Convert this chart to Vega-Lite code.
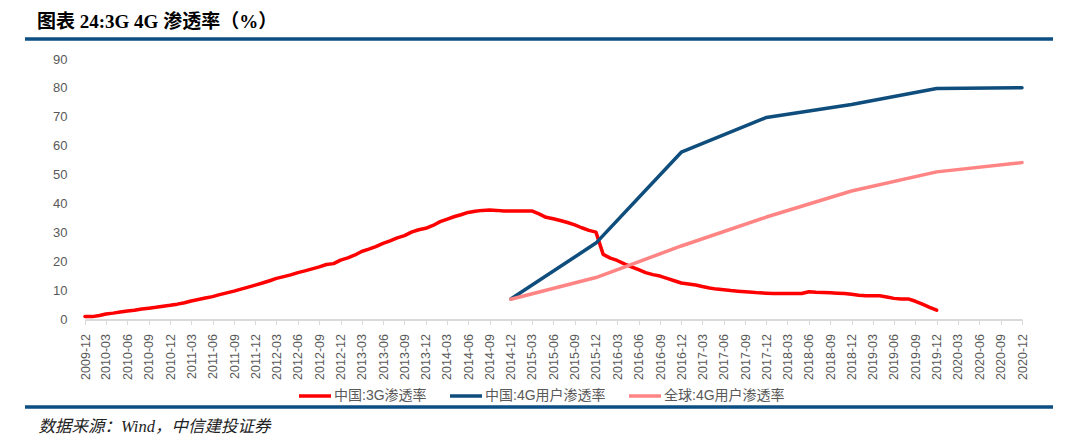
{
  "$schema": "https://vega.github.io/schema/vega-lite/v6.json",
  "autosize": {"type": "none"},
  "width": 1028,
  "height": 368,
  "padding": {"left": 25, "top": 39, "right": 27, "bottom": 39},
  "background": "white",
  "title": {
    "text": "图表 24:3G 4G 渗透率（%）",
    "anchor": "start",
    "dx": 12,
    "offset": 7,
    "font": "Liberation Serif, Noto Sans CJK SC",
    "fontSize": 19,
    "fontWeight": "bold",
    "color": "#000000"
  },
  "data": {
    "values": [
      {"month": "2009-12-01", "series": "中国:3G渗透率", "value": 1.0},
      {"month": "2010-01-01", "series": "中国:3G渗透率", "value": 1.0},
      {"month": "2010-02-01", "series": "中国:3G渗透率", "value": 1.4},
      {"month": "2010-03-01", "series": "中国:3G渗透率", "value": 1.9},
      {"month": "2010-04-01", "series": "中国:3G渗透率", "value": 2.2},
      {"month": "2010-05-01", "series": "中国:3G渗透率", "value": 2.6},
      {"month": "2010-06-01", "series": "中国:3G渗透率", "value": 2.9},
      {"month": "2010-07-01", "series": "中国:3G渗透率", "value": 3.2},
      {"month": "2010-08-01", "series": "中国:3G渗透率", "value": 3.6},
      {"month": "2010-09-01", "series": "中国:3G渗透率", "value": 3.9},
      {"month": "2010-10-01", "series": "中国:3G渗透率", "value": 4.2},
      {"month": "2010-11-01", "series": "中国:3G渗透率", "value": 4.6},
      {"month": "2010-12-01", "series": "中国:3G渗透率", "value": 4.9},
      {"month": "2011-01-01", "series": "中国:3G渗透率", "value": 5.3},
      {"month": "2011-02-01", "series": "中国:3G渗透率", "value": 5.8},
      {"month": "2011-03-01", "series": "中国:3G渗透率", "value": 6.4},
      {"month": "2011-04-01", "series": "中国:3G渗透率", "value": 6.9},
      {"month": "2011-05-01", "series": "中国:3G渗透率", "value": 7.4},
      {"month": "2011-06-01", "series": "中国:3G渗透率", "value": 7.9},
      {"month": "2011-07-01", "series": "中国:3G渗透率", "value": 8.6},
      {"month": "2011-08-01", "series": "中国:3G渗透率", "value": 9.2},
      {"month": "2011-09-01", "series": "中国:3G渗透率", "value": 9.8},
      {"month": "2011-10-01", "series": "中国:3G渗透率", "value": 10.5},
      {"month": "2011-11-01", "series": "中国:3G渗透率", "value": 11.2},
      {"month": "2011-12-01", "series": "中国:3G渗透率", "value": 11.9},
      {"month": "2012-01-01", "series": "中国:3G渗透率", "value": 12.6},
      {"month": "2012-02-01", "series": "中国:3G渗透率", "value": 13.4},
      {"month": "2012-03-01", "series": "中国:3G渗透率", "value": 14.2},
      {"month": "2012-04-01", "series": "中国:3G渗透率", "value": 14.8},
      {"month": "2012-05-01", "series": "中国:3G渗透率", "value": 15.4},
      {"month": "2012-06-01", "series": "中国:3G渗透率", "value": 16.2},
      {"month": "2012-07-01", "series": "中国:3G渗透率", "value": 16.8},
      {"month": "2012-08-01", "series": "中国:3G渗透率", "value": 17.5},
      {"month": "2012-09-01", "series": "中国:3G渗透率", "value": 18.2},
      {"month": "2012-10-01", "series": "中国:3G渗透率", "value": 19.0},
      {"month": "2012-11-01", "series": "中国:3G渗透率", "value": 19.3},
      {"month": "2012-12-01", "series": "中国:3G渗透率", "value": 20.5},
      {"month": "2013-01-01", "series": "中国:3G渗透率", "value": 21.3},
      {"month": "2013-02-01", "series": "中国:3G渗透率", "value": 22.3},
      {"month": "2013-03-01", "series": "中国:3G渗透率", "value": 23.5},
      {"month": "2013-04-01", "series": "中国:3G渗透率", "value": 24.3},
      {"month": "2013-05-01", "series": "中国:3G渗透率", "value": 25.2},
      {"month": "2013-06-01", "series": "中国:3G渗透率", "value": 26.3},
      {"month": "2013-07-01", "series": "中国:3G渗透率", "value": 27.2},
      {"month": "2013-08-01", "series": "中国:3G渗透率", "value": 28.2},
      {"month": "2013-09-01", "series": "中国:3G渗透率", "value": 29.0},
      {"month": "2013-10-01", "series": "中国:3G渗透率", "value": 30.2},
      {"month": "2013-11-01", "series": "中国:3G渗透率", "value": 31.0},
      {"month": "2013-12-01", "series": "中国:3G渗透率", "value": 31.5},
      {"month": "2014-01-01", "series": "中国:3G渗透率", "value": 32.5},
      {"month": "2014-02-01", "series": "中国:3G渗透率", "value": 33.8},
      {"month": "2014-03-01", "series": "中国:3G渗透率", "value": 34.6},
      {"month": "2014-04-01", "series": "中国:3G渗透率", "value": 35.5},
      {"month": "2014-05-01", "series": "中国:3G渗透率", "value": 36.2},
      {"month": "2014-06-01", "series": "中国:3G渗透率", "value": 37.0},
      {"month": "2014-07-01", "series": "中国:3G渗透率", "value": 37.4},
      {"month": "2014-08-01", "series": "中国:3G渗透率", "value": 37.7},
      {"month": "2014-09-01", "series": "中国:3G渗透率", "value": 37.8},
      {"month": "2014-10-01", "series": "中国:3G渗透率", "value": 37.7},
      {"month": "2014-11-01", "series": "中国:3G渗透率", "value": 37.5},
      {"month": "2014-12-01", "series": "中国:3G渗透率", "value": 37.5},
      {"month": "2015-01-01", "series": "中国:3G渗透率", "value": 37.5},
      {"month": "2015-02-01", "series": "中国:3G渗透率", "value": 37.5},
      {"month": "2015-03-01", "series": "中国:3G渗透率", "value": 37.5},
      {"month": "2015-04-01", "series": "中国:3G渗透率", "value": 36.5},
      {"month": "2015-05-01", "series": "中国:3G渗透率", "value": 35.3},
      {"month": "2015-06-01", "series": "中国:3G渗透率", "value": 34.8},
      {"month": "2015-07-01", "series": "中国:3G渗透率", "value": 34.2},
      {"month": "2015-08-01", "series": "中国:3G渗透率", "value": 33.5},
      {"month": "2015-09-01", "series": "中国:3G渗透率", "value": 32.7},
      {"month": "2015-10-01", "series": "中国:3G渗透率", "value": 31.7},
      {"month": "2015-11-01", "series": "中国:3G渗透率", "value": 30.8},
      {"month": "2015-12-01", "series": "中国:3G渗透率", "value": 30.2},
      {"month": "2016-01-01", "series": "中国:3G渗透率", "value": 22.5},
      {"month": "2016-02-01", "series": "中国:3G渗透率", "value": 21.2},
      {"month": "2016-03-01", "series": "中国:3G渗透率", "value": 20.4},
      {"month": "2016-04-01", "series": "中国:3G渗透率", "value": 19.2},
      {"month": "2016-05-01", "series": "中国:3G渗透率", "value": 18.2},
      {"month": "2016-06-01", "series": "中国:3G渗透率", "value": 17.2},
      {"month": "2016-07-01", "series": "中国:3G渗透率", "value": 16.2},
      {"month": "2016-08-01", "series": "中国:3G渗透率", "value": 15.5},
      {"month": "2016-09-01", "series": "中国:3G渗透率", "value": 15.0},
      {"month": "2016-10-01", "series": "中国:3G渗透率", "value": 14.2},
      {"month": "2016-11-01", "series": "中国:3G渗透率", "value": 13.4},
      {"month": "2016-12-01", "series": "中国:3G渗透率", "value": 12.6},
      {"month": "2017-01-01", "series": "中国:3G渗透率", "value": 12.3},
      {"month": "2017-02-01", "series": "中国:3G渗透率", "value": 11.9},
      {"month": "2017-03-01", "series": "中国:3G渗透率", "value": 11.4},
      {"month": "2017-04-01", "series": "中国:3G渗透率", "value": 10.9},
      {"month": "2017-05-01", "series": "中国:3G渗透率", "value": 10.5},
      {"month": "2017-06-01", "series": "中国:3G渗透率", "value": 10.3},
      {"month": "2017-07-01", "series": "中国:3G渗透率", "value": 10.0},
      {"month": "2017-08-01", "series": "中国:3G渗透率", "value": 9.8},
      {"month": "2017-09-01", "series": "中国:3G渗透率", "value": 9.6},
      {"month": "2017-10-01", "series": "中国:3G渗透率", "value": 9.4},
      {"month": "2017-11-01", "series": "中国:3G渗透率", "value": 9.2},
      {"month": "2017-12-01", "series": "中国:3G渗透率", "value": 9.1},
      {"month": "2018-01-01", "series": "中国:3G渗透率", "value": 9.0},
      {"month": "2018-02-01", "series": "中国:3G渗透率", "value": 9.0},
      {"month": "2018-03-01", "series": "中国:3G渗透率", "value": 9.0},
      {"month": "2018-04-01", "series": "中国:3G渗透率", "value": 9.0},
      {"month": "2018-05-01", "series": "中国:3G渗透率", "value": 9.0},
      {"month": "2018-06-01", "series": "中国:3G渗透率", "value": 9.6},
      {"month": "2018-07-01", "series": "中国:3G渗透率", "value": 9.4},
      {"month": "2018-08-01", "series": "中国:3G渗透率", "value": 9.3},
      {"month": "2018-09-01", "series": "中国:3G渗透率", "value": 9.2},
      {"month": "2018-10-01", "series": "中国:3G渗透率", "value": 9.1},
      {"month": "2018-11-01", "series": "中国:3G渗透率", "value": 9.0},
      {"month": "2018-12-01", "series": "中国:3G渗透率", "value": 8.7},
      {"month": "2019-01-01", "series": "中国:3G渗透率", "value": 8.4},
      {"month": "2019-02-01", "series": "中国:3G渗透率", "value": 8.2},
      {"month": "2019-03-01", "series": "中国:3G渗透率", "value": 8.2},
      {"month": "2019-04-01", "series": "中国:3G渗透率", "value": 8.2},
      {"month": "2019-05-01", "series": "中国:3G渗透率", "value": 7.8},
      {"month": "2019-06-01", "series": "中国:3G渗透率", "value": 7.3},
      {"month": "2019-07-01", "series": "中国:3G渗透率", "value": 7.1},
      {"month": "2019-08-01", "series": "中国:3G渗透率", "value": 7.1},
      {"month": "2019-09-01", "series": "中国:3G渗透率", "value": 6.3},
      {"month": "2019-10-01", "series": "中国:3G渗透率", "value": 5.3},
      {"month": "2019-11-01", "series": "中国:3G渗透率", "value": 4.2},
      {"month": "2019-12-01", "series": "中国:3G渗透率", "value": 3.2},
      {"month": "2014-12-01", "series": "中国:4G用户渗透率", "value": 7.1},
      {"month": "2015-12-01", "series": "中国:4G用户渗透率", "value": 26.4},
      {"month": "2016-12-01", "series": "中国:4G用户渗透率", "value": 57.8},
      {"month": "2017-12-01", "series": "中国:4G用户渗透率", "value": 69.8},
      {"month": "2018-12-01", "series": "中国:4G用户渗透率", "value": 74.3},
      {"month": "2019-12-01", "series": "中国:4G用户渗透率", "value": 79.8},
      {"month": "2020-12-01", "series": "中国:4G用户渗透率", "value": 80.1},
      {"month": "2014-12-01", "series": "全球:4G用户渗透率", "value": 7.0},
      {"month": "2015-12-01", "series": "全球:4G用户渗透率", "value": 14.5},
      {"month": "2016-12-01", "series": "全球:4G用户渗透率", "value": 25.4},
      {"month": "2017-12-01", "series": "全球:4G用户渗透率", "value": 35.4},
      {"month": "2018-12-01", "series": "全球:4G用户渗透率", "value": 44.4},
      {"month": "2019-12-01", "series": "全球:4G用户渗透率", "value": 51.0},
      {"month": "2020-12-01", "series": "全球:4G用户渗透率", "value": 54.2}
    ]
  },
  "mark": {"type": "line", "strokeWidth": 3.5, "strokeJoin": "round", "strokeCap": "round"},
  "encoding": {
    "x": {
      "field": "month",
      "type": "temporal",
      "scale": {
        "type": "utc",
        "domain": [
          {"year": 2009, "month": 12, "date": 1, "utc": true},
          {"year": 2020, "month": 12, "date": 1, "utc": true}
        ],
        "range": [60, 997]
      },
      "axis": {
        "values": [
          {"year": 2009, "month": 12, "date": 1, "utc": true},
          {"year": 2010, "month": 3, "date": 1, "utc": true},
          {"year": 2010, "month": 6, "date": 1, "utc": true},
          {"year": 2010, "month": 9, "date": 1, "utc": true},
          {"year": 2010, "month": 12, "date": 1, "utc": true},
          {"year": 2011, "month": 3, "date": 1, "utc": true},
          {"year": 2011, "month": 6, "date": 1, "utc": true},
          {"year": 2011, "month": 9, "date": 1, "utc": true},
          {"year": 2011, "month": 12, "date": 1, "utc": true},
          {"year": 2012, "month": 3, "date": 1, "utc": true},
          {"year": 2012, "month": 6, "date": 1, "utc": true},
          {"year": 2012, "month": 9, "date": 1, "utc": true},
          {"year": 2012, "month": 12, "date": 1, "utc": true},
          {"year": 2013, "month": 3, "date": 1, "utc": true},
          {"year": 2013, "month": 6, "date": 1, "utc": true},
          {"year": 2013, "month": 9, "date": 1, "utc": true},
          {"year": 2013, "month": 12, "date": 1, "utc": true},
          {"year": 2014, "month": 3, "date": 1, "utc": true},
          {"year": 2014, "month": 6, "date": 1, "utc": true},
          {"year": 2014, "month": 9, "date": 1, "utc": true},
          {"year": 2014, "month": 12, "date": 1, "utc": true},
          {"year": 2015, "month": 3, "date": 1, "utc": true},
          {"year": 2015, "month": 6, "date": 1, "utc": true},
          {"year": 2015, "month": 9, "date": 1, "utc": true},
          {"year": 2015, "month": 12, "date": 1, "utc": true},
          {"year": 2016, "month": 3, "date": 1, "utc": true},
          {"year": 2016, "month": 6, "date": 1, "utc": true},
          {"year": 2016, "month": 9, "date": 1, "utc": true},
          {"year": 2016, "month": 12, "date": 1, "utc": true},
          {"year": 2017, "month": 3, "date": 1, "utc": true},
          {"year": 2017, "month": 6, "date": 1, "utc": true},
          {"year": 2017, "month": 9, "date": 1, "utc": true},
          {"year": 2017, "month": 12, "date": 1, "utc": true},
          {"year": 2018, "month": 3, "date": 1, "utc": true},
          {"year": 2018, "month": 6, "date": 1, "utc": true},
          {"year": 2018, "month": 9, "date": 1, "utc": true},
          {"year": 2018, "month": 12, "date": 1, "utc": true},
          {"year": 2019, "month": 3, "date": 1, "utc": true},
          {"year": 2019, "month": 6, "date": 1, "utc": true},
          {"year": 2019, "month": 9, "date": 1, "utc": true},
          {"year": 2019, "month": 12, "date": 1, "utc": true},
          {"year": 2020, "month": 3, "date": 1, "utc": true},
          {"year": 2020, "month": 6, "date": 1, "utc": true},
          {"year": 2020, "month": 9, "date": 1, "utc": true},
          {"year": 2020, "month": 12, "date": 1, "utc": true}
        ],
        "format": "%Y-%m",
        "labelAngle": -90,
        "labelFont": "Liberation Sans",
        "labelFontSize": 12.5,
        "labelColor": "#595959",
        "labelPadding": 9,
        "labelOverlap": false,
        "labelFlush": false,
        "labelBound": false,
        "tickSize": 5,
        "tickColor": "#d9d9d9",
        "tickWidth": 1,
        "domainColor": "#d9d9d9",
        "domainWidth": 2,
        "grid": false,
        "offset": -87.5,
        "title": "数据来源：Wind，中信建投证券",
        "titleX": 13,
        "titleY": 107,
        "titleAlign": "left",
        "titleBaseline": "middle",
        "titleFont": "Liberation Serif, Noto Sans CJK SC",
        "titleFontStyle": "italic",
        "titleFontWeight": "normal",
        "titleFontSize": 16.5,
        "titleColor": "#222222"
      }
    },
    "y": {
      "field": "value",
      "type": "quantitative",
      "scale": {"domain": [0, 90], "range": [280.5, 20], "nice": false},
      "axis": {
        "values": [0, 10, 20, 30, 40, 50, 60, 70, 80, 90],
        "domain": false,
        "ticks": false,
        "grid": false,
        "labelFont": "Liberation Sans",
        "labelFontSize": 13,
        "labelColor": "#595959",
        "labelPadding": 2,
        "offset": -44,
        "title": null
      }
    },
    "color": {
      "field": "series",
      "type": "nominal",
      "scale": {
        "domain": ["中国:3G渗透率", "中国:4G用户渗透率", "全球:4G用户渗透率"],
        "range": ["#ff0000", "#0e4d7c", "#ff8585"]
      },
      "legend": {
        "orient": "none",
        "legendX": 272,
        "legendY": 339,
        "direction": "horizontal",
        "title": null,
        "symbolType": "stroke",
        "symbolSize": 1024,
        "symbolStrokeWidth": 3.5,
        "labelFont": "Liberation Sans, Noto Sans CJK SC",
        "labelFontSize": 14,
        "labelColor": "#595959",
        "labelOffset": 1,
        "columnPadding": 16,
        "padding": 0
      }
    }
  },
  "config": {
    "view": {"stroke": "#0c4f84", "strokeWidth": 3.5, "strokeDash": [1028, 368]}
  }
}
